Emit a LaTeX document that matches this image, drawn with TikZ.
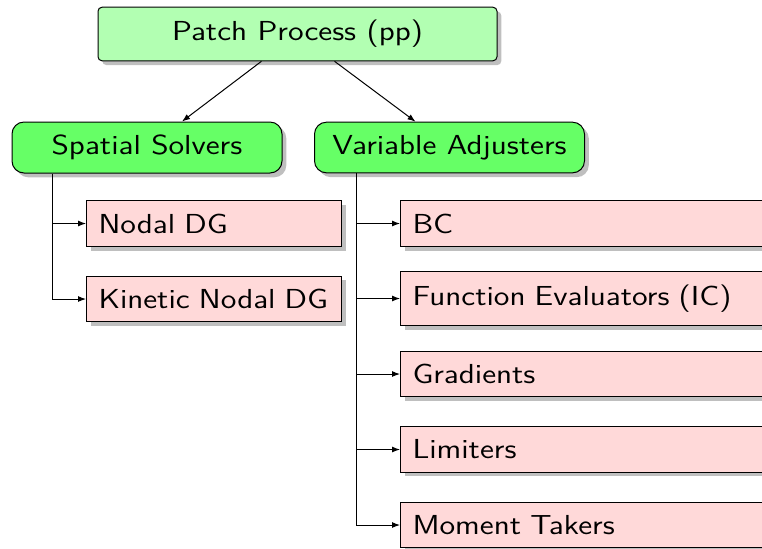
\documentclass[tikz,border=0pt]{standalone}
\usepackage{fontspec}
\setsansfont{Latin Modern Sans}[FakeStretch=1.16]
\usepackage{tikz}
\usetikzlibrary{arrows.meta, positioning, shadows}

\tikzset{
  rootbox/.style={draw, fill=green!30, rounded corners=2pt, drop shadow, minimum width=199.5pt, inner ysep=6.5pt},
  groupbox/.style={draw, fill=green!60, rounded corners=6pt, drop shadow, minimum width=135pt, inner ysep=6.5pt},
  leafbox/.style={draw, fill=red!15, drop shadow, anchor=west, inner xsep=6pt, inner ysep=6.5pt, text width=115.5pt},
  wideleaf/.style={leafbox, text width=200pt}
}

\begin{document}
\begin{tikzpicture}[x=0.5pt, y=-0.5pt, line width=0.5pt, >={Latex[length=4pt,width=3pt]}, font=\sffamily\fontsize{13.75}{16}\selectfont]
    \useasboundingbox (0,0) rectangle (762,548);
    \clip (0,0) rectangle (762,548);

    % 顶层
    \node[rootbox] (pp) at (297.5,34) {Patch Process (pp)};

    % 两个分组
    \node[groupbox] (ss) at (147,147.5) {Spatial Solvers};
    \node[groupbox] (va) at (449.5,147.5) {Variable Adjusters};

    % 叶子
    \node[leafbox] (ndg)  at (86,223.5) {Nodal DG};
    \node[leafbox] (kndg) at (86,299) {Kinetic Nodal DG};
    \node[wideleaf] (bc)   at (400,223.5) {BC};
    \node[wideleaf] (fe)   at (400,298.5) {Function Evaluators (IC)};
    \node[wideleaf] (grad) at (400,374) {Gradients};
    \node[wideleaf] (lim)  at (400,449.5) {Limiters};
    \node[wideleaf] (mom)  at (400,525) {Moment Takers};

    % 箭头
    \draw[->] ([xshift=-18pt]pp.south) -- ([xshift=17.5pt]ss.north);
    \draw[->] ([xshift=18.5pt]pp.south) -- ([xshift=-17pt]va.north);
    \draw[->] ([xshift=20.5pt]ss.south west) |- (ndg.west);
    \draw[->] ([xshift=20.5pt]ss.south west) |- (kndg.west);
    \draw[->] ([xshift=21pt]va.south west) |- (bc.west);
    \draw[->] ([xshift=21pt]va.south west) |- (fe.west);
    \draw[->] ([xshift=21pt]va.south west) |- (grad.west);
    \draw[->] ([xshift=21pt]va.south west) |- (lim.west);
    \draw[->] ([xshift=21pt]va.south west) |- (mom.west);
\end{tikzpicture}
\end{document}
